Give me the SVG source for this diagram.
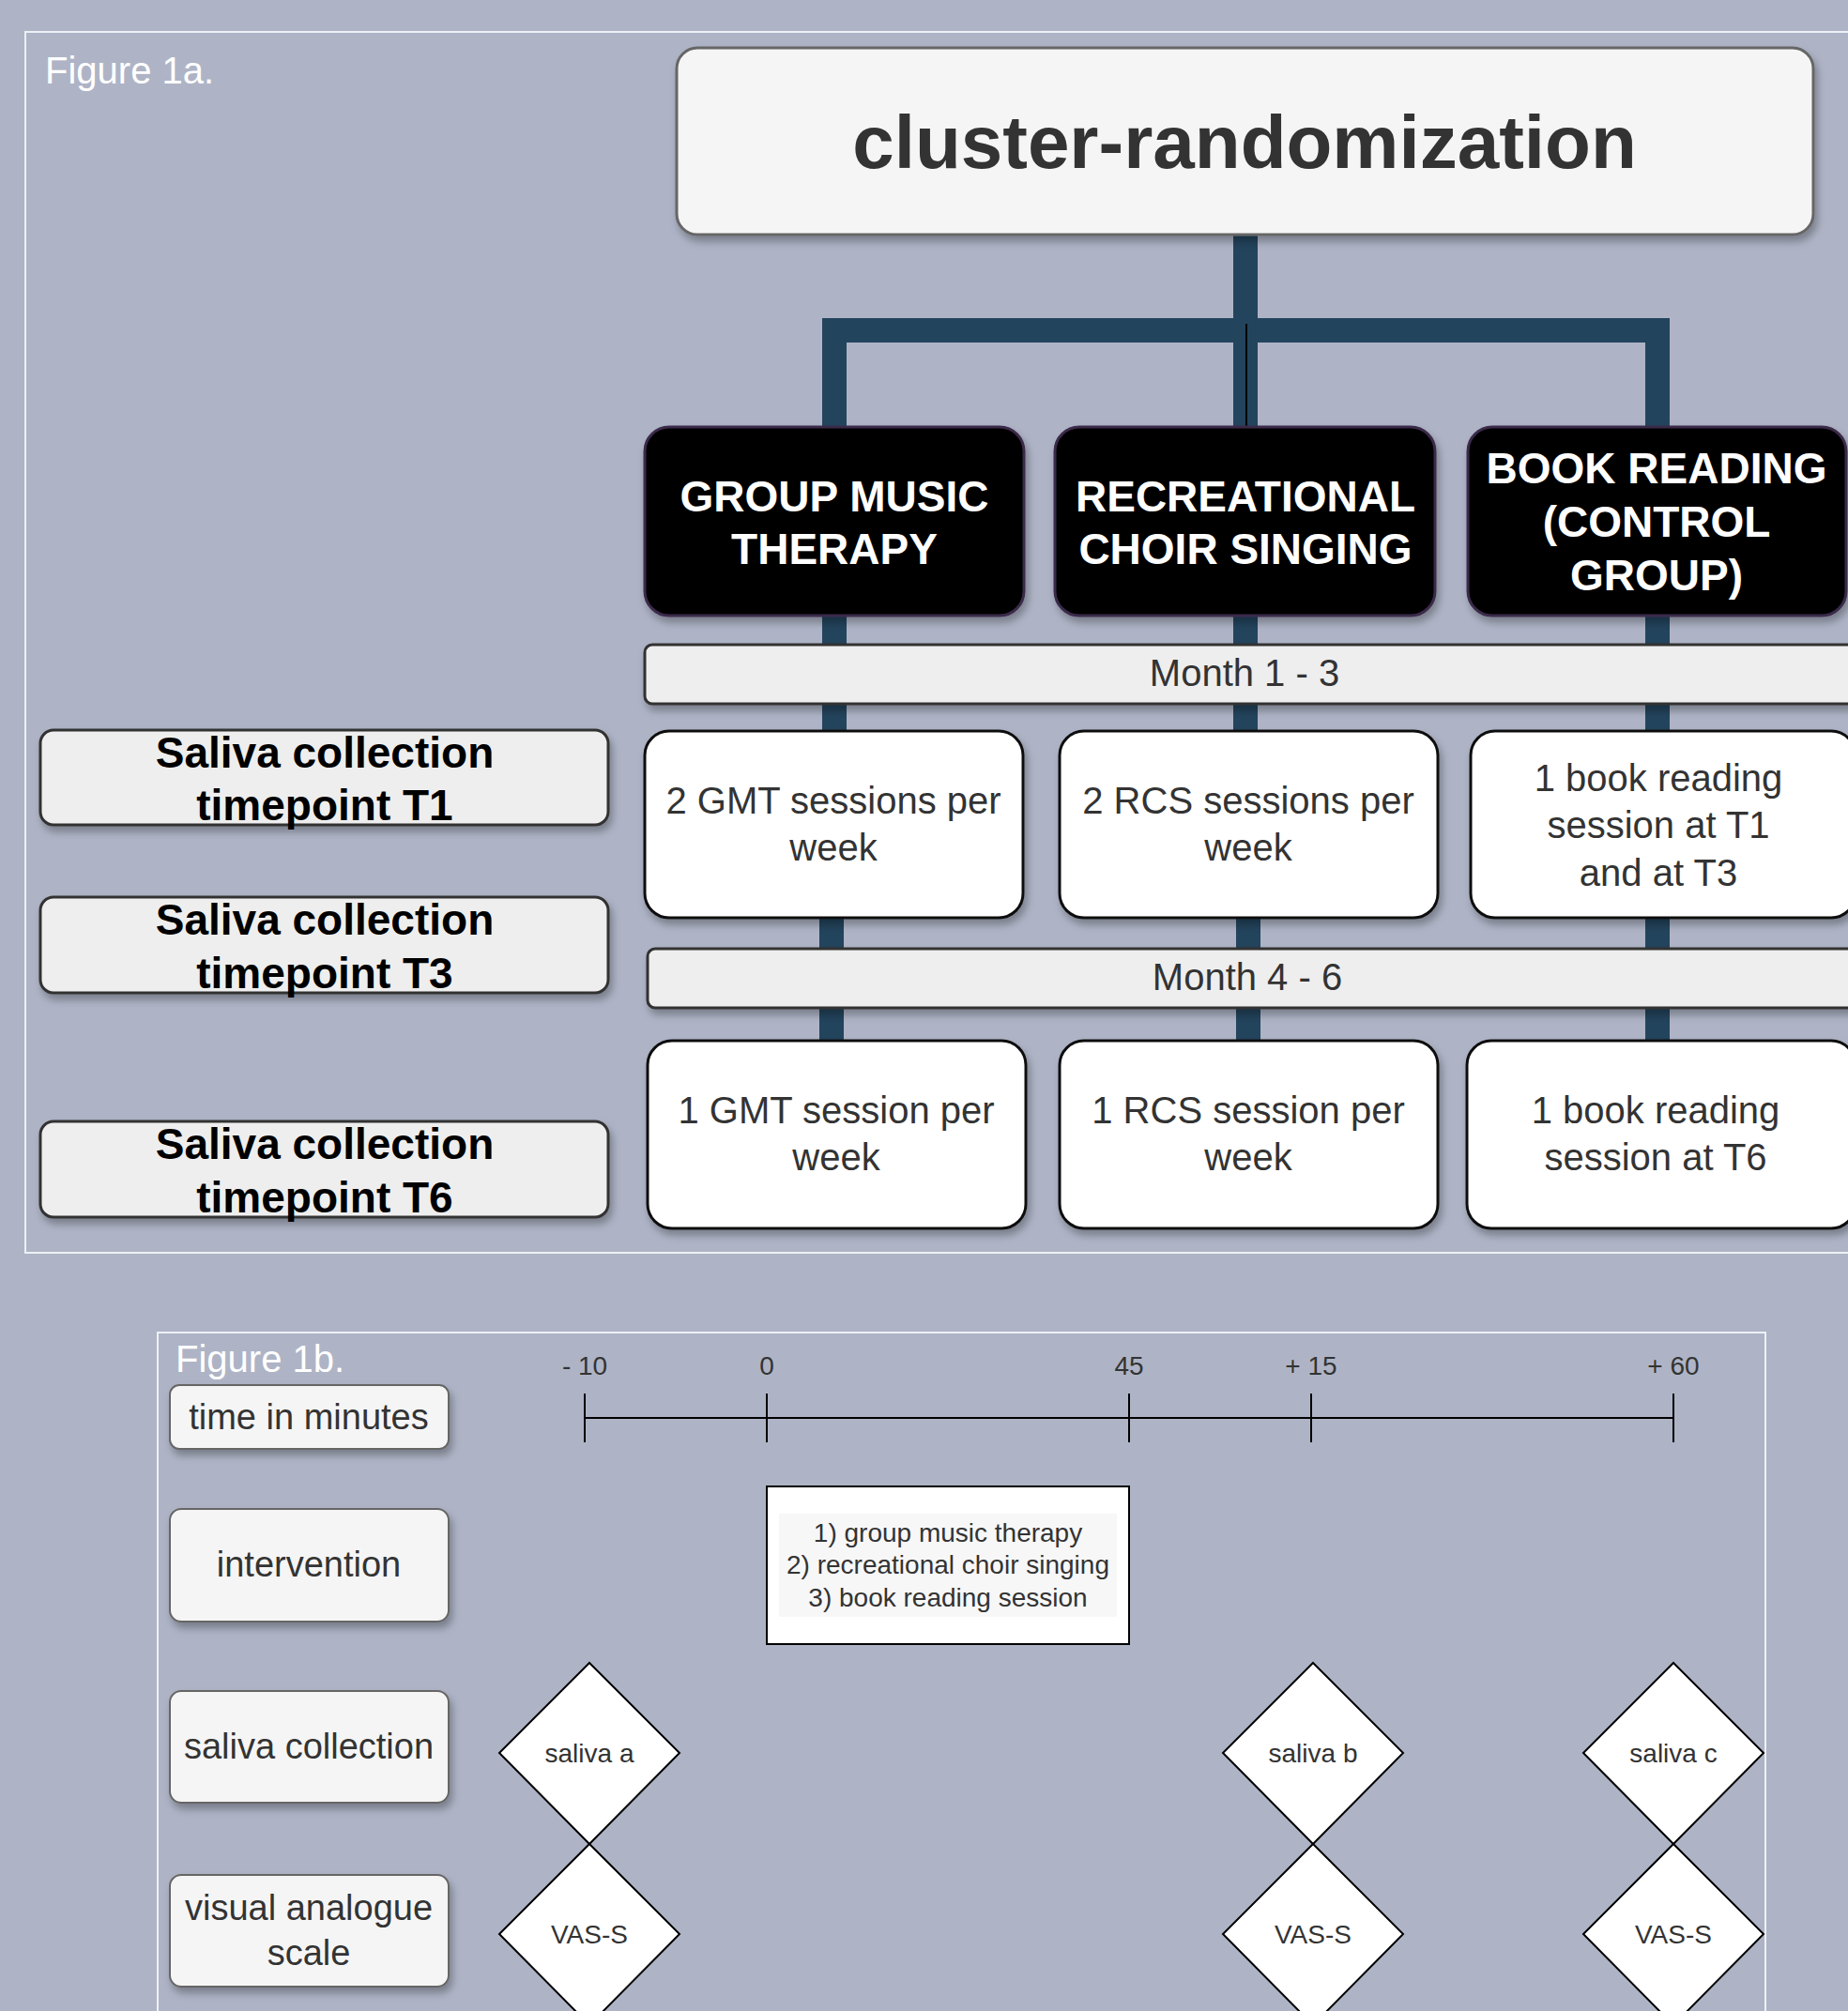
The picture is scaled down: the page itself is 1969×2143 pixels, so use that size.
<svg xmlns="http://www.w3.org/2000/svg" width="1969" height="2143" viewBox="0 0 1969 2143">
<defs>
<filter id="sh" x="-10%" y="-10%" width="130%" height="140%">
<feDropShadow dx="3" dy="6" stdDeviation="4" flood-color="#000" flood-opacity="0.3"/>
</filter>
<style>
.fig{font-family:"Liberation Sans",Arial,sans-serif;font-size:40px;fill:#fff}
.frame{fill:none;stroke:#eef0f5;stroke-width:2}
.dark{fill:#000;stroke:#3a2a4a;stroke-width:3}
.dt{font-family:"Liberation Sans",Arial,sans-serif;font-size:46px;font-weight:bold;fill:#fff;text-anchor:middle}
.wbox{fill:#fff;stroke:#111;stroke-width:3}
.gbar{fill:#eeeeee;stroke:#333;stroke-width:3}
.t40{font-family:"Liberation Sans",Arial,sans-serif;font-size:40px;fill:#333;text-anchor:middle}
.lbl{fill:#eeeeee;stroke:#333;stroke-width:3}
.lt{font-family:"Liberation Sans",Arial,sans-serif;font-size:46px;font-weight:bold;fill:#000;text-anchor:middle}
.lb2{fill:#f5f5f5;stroke:#666;stroke-width:2}
.t38{font-family:"Liberation Sans",Arial,sans-serif;font-size:38px;fill:#333;text-anchor:middle}
.t28{font-family:"Liberation Sans",Arial,sans-serif;font-size:28px;fill:#333;text-anchor:middle}
.dia{fill:#fff;stroke:#000;stroke-width:2}
.conn{fill:none;stroke:#23445d;stroke-width:26}
.tl{fill:none;stroke:#000;stroke-width:2}
</style>
</defs>
<rect width="1969" height="2143" fill="#aeb4c6"/>

<!-- Figure 1a -->
<rect class="frame" x="27" y="34" width="1960" height="1301"/>
<text class="fig" x="48" y="89">Figure 1a.</text>

<g id="connectors">
<path class="conn" d="M1327 250 V352 H889 V455"/>
<path class="conn" d="M1327 250 V352 H1766 V455"/>
<path class="conn" d="M1327 250 V455"/>
<line x1="1328" y1="345" x2="1328" y2="455" stroke="#000" stroke-width="2"/>
<path class="conn" d="M889 656 V687 M1327 656 V687 M1766 656 V687"/>
<path class="conn" d="M889 750 V779 M1327 750 V779 M1766 750 V779"/>
<path class="conn" d="M886 978 V1011 M1330 978 V1011 M1766 978 V1011"/>
<path class="conn" d="M886 1074 V1109 M1330 1074 V1109 M1766 1074 V1109"/>
</g>

<g id="cluster">
<rect x="721" y="51" width="1211" height="199" rx="22" fill="#f5f5f5" stroke="#666" stroke-width="3" filter="url(#sh)"/>
<text x="1326" y="179" text-anchor="middle" font-family="Liberation Sans,Arial,sans-serif" font-size="80" font-weight="bold" fill="#333">cluster-randomization</text>
</g>

<g id="gmt">
<rect class="dark" x="687" y="455" width="404" height="201" rx="26" filter="url(#sh)"/>
<text class="dt" x="889" y="545">GROUP MUSIC</text>
<text class="dt" x="889" y="601">THERAPY</text>
</g>
<g id="rcs">
<rect class="dark" x="1124" y="455" width="405" height="201" rx="26" filter="url(#sh)"/>
<text class="dt" x="1327" y="545">RECREATIONAL</text>
<text class="dt" x="1327" y="601">CHOIR SINGING</text>
</g>
<g id="book">
<rect class="dark" x="1564" y="455" width="403" height="201" rx="26" filter="url(#sh)"/>
<text class="dt" x="1765" y="515">BOOK READING</text>
<text class="dt" x="1765" y="572">(CONTROL</text>
<text class="dt" x="1765" y="629">GROUP)</text>
</g>

<g id="month13">
<rect class="gbar" x="687" y="687" width="1290" height="63" rx="8" filter="url(#sh)"/>
<text class="t40" x="1326" y="731">Month 1 - 3</text>
</g>

<g id="gmt2">
<rect class="wbox" x="687" y="779" width="403" height="199" rx="26" filter="url(#sh)"/>
<text class="t40" x="888" y="867">2 GMT sessions per</text>
<text class="t40" x="888" y="917">week</text>
</g>
<g id="rcs2">
<rect class="wbox" x="1129" y="779" width="403" height="199" rx="26" filter="url(#sh)"/>
<text class="t40" x="1330" y="867">2 RCS sessions per</text>
<text class="t40" x="1330" y="917">week</text>
</g>
<g id="book1">
<rect class="wbox" x="1567" y="779" width="410" height="199" rx="26" filter="url(#sh)"/>
<text class="t40" x="1767" y="843">1 book reading</text>
<text class="t40" x="1767" y="893">session at T1</text>
<text class="t40" x="1767" y="944">and at T3</text>
</g>

<g id="month46">
<rect class="gbar" x="690" y="1011" width="1290" height="63" rx="8" filter="url(#sh)"/>
<text class="t40" x="1329" y="1055">Month 4 - 6</text>
</g>

<g id="gmt1">
<rect class="wbox" x="690" y="1109" width="403" height="200" rx="26" filter="url(#sh)"/>
<text class="t40" x="891" y="1197">1 GMT session per</text>
<text class="t40" x="891" y="1247">week</text>
</g>
<g id="rcs1">
<rect class="wbox" x="1129" y="1109" width="403" height="200" rx="26" filter="url(#sh)"/>
<text class="t40" x="1330" y="1197">1 RCS session per</text>
<text class="t40" x="1330" y="1247">week</text>
</g>
<g id="book6">
<rect class="wbox" x="1563" y="1109" width="414" height="200" rx="26" filter="url(#sh)"/>
<text class="t40" x="1764" y="1197">1 book reading</text>
<text class="t40" x="1764" y="1247">session at T6</text>
</g>

<g id="t1">
<rect class="lbl" x="43" y="778" width="605" height="101" rx="14" filter="url(#sh)"/>
<text class="lt" x="346" y="818">Saliva collection</text>
<text class="lt" x="346" y="874">timepoint T1</text>
</g>
<g id="t3">
<rect class="lbl" x="43" y="956" width="605" height="102" rx="14" filter="url(#sh)"/>
<text class="lt" x="346" y="996">Saliva collection</text>
<text class="lt" x="346" y="1053">timepoint T3</text>
</g>
<g id="t6">
<rect class="lbl" x="43" y="1195" width="605" height="102" rx="14" filter="url(#sh)"/>
<text class="lt" x="346" y="1235">Saliva collection</text>
<text class="lt" x="346" y="1292">timepoint T6</text>
</g>

<!-- Figure 1b -->
<rect class="frame" x="168" y="1420" width="1713" height="740"/>
<text class="fig" x="187" y="1462">Figure 1b.</text>

<g id="timeline">
<path class="tl" d="M623 1511 H1783 M623 1485 V1537 M817 1485 V1537 M1203 1485 V1537 M1397 1485 V1537 M1783 1485 V1537"/>
<text class="t28" x="623" y="1465">- 10</text>
<text class="t28" x="817" y="1465">0</text>
<text class="t28" x="1203" y="1465">45</text>
<text class="t28" x="1397" y="1465">+ 15</text>
<text class="t28" x="1783" y="1465">+ 60</text>
</g>

<g id="lbl-time">
<rect class="lb2" x="181" y="1476" width="297" height="68" rx="10" filter="url(#sh)"/>
<text class="t38" x="329" y="1523">time in minutes</text>
</g>
<g id="lbl-intervention">
<rect class="lb2" x="181" y="1608" width="297" height="120" rx="12" filter="url(#sh)"/>
<text class="t38" x="329" y="1680">intervention</text>
</g>
<g id="lbl-saliva">
<rect class="lb2" x="181" y="1802" width="297" height="119" rx="12" filter="url(#sh)"/>
<text class="t38" x="329" y="1874">saliva collection</text>
</g>
<g id="lbl-vas">
<rect class="lb2" x="181" y="1998" width="297" height="119" rx="12" filter="url(#sh)"/>
<text class="t38" x="329" y="2046">visual analogue</text>
<text class="t38" x="329" y="2094">scale</text>
</g>

<g id="intervention">
<rect x="817" y="1584" width="386" height="168" fill="#fff" stroke="#000" stroke-width="2"/>
<rect x="830" y="1613" width="360" height="110" fill="#f7f7f7"/>
<text class="t28" x="1010" y="1643">1) group music therapy</text>
<text class="t28" x="1010" y="1677">2) recreational choir singing</text>
<text class="t28" x="1010" y="1712">3) book reading session</text>
</g>

<g id="saliva-a">
<polygon class="dia" points="628,1772 724,1868 628,1965 532,1868"/>
<text class="t28" x="628" y="1878">saliva a</text>
</g>
<g id="saliva-b">
<polygon class="dia" points="1399,1772 1495,1868 1399,1965 1303,1868"/>
<text class="t28" x="1399" y="1878">saliva b</text>
</g>
<g id="saliva-c">
<polygon class="dia" points="1783,1772 1879,1868 1783,1965 1687,1868"/>
<text class="t28" x="1783" y="1878">saliva c</text>
</g>
<g id="vas-a">
<polygon class="dia" points="628,1965 724,2061 628,2158 532,2061"/>
<text class="t28" x="628" y="2071">VAS-S</text>
</g>
<g id="vas-b">
<polygon class="dia" points="1399,1965 1495,2061 1399,2158 1303,2061"/>
<text class="t28" x="1399" y="2071">VAS-S</text>
</g>
<g id="vas-c">
<polygon class="dia" points="1783,1965 1879,2061 1783,2158 1687,2061"/>
<text class="t28" x="1783" y="2071">VAS-S</text>
</g>
</svg>
